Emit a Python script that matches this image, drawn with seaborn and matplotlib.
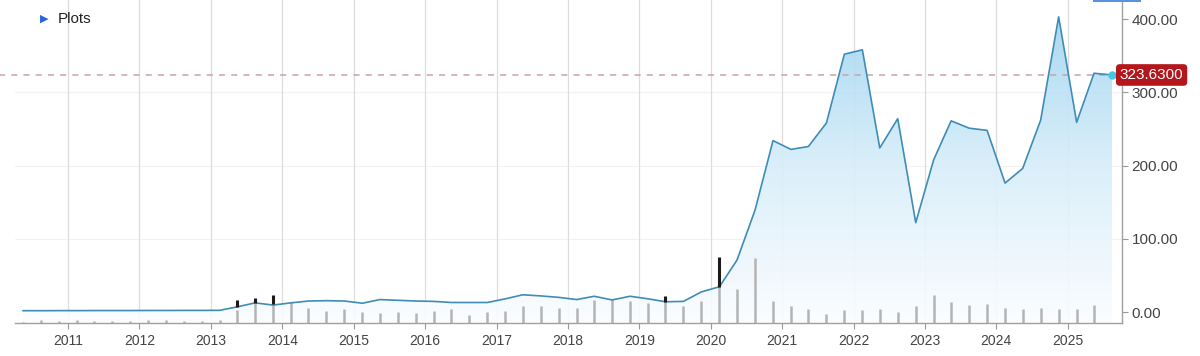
import numpy as np
import pandas as pd
import matplotlib
matplotlib.use("Agg")
import matplotlib.pyplot as plt
import matplotlib.dates as mdates
from matplotlib.colors import LinearSegmentedColormap
from matplotlib.patches import Polygon, Rectangle
import matplotlib.transforms as mtransforms
import seaborn as sns

# quarterly closes, May 2010 .. Aug 2025
price = [1.8, 1.8, 1.9, 1.9, 2.0, 2.0, 2.0, 2.1, 2.1, 2.2, 2.2,
         2.3, 7.0, 12.5, 9.5,
         12.5, 15.0, 15.5, 15.0,
         12.0, 17.0, 16.0, 15.0,
         14.5, 13.0, 13.0, 13.0,
         18.0, 23.5, 22.0, 20.0,
         17.0, 21.5, 16.5, 21.5,
         18.0, 14.0, 14.5, 27.5,
         34.5, 71.0, 139.0, 234.0,
         222.0, 226.0, 258.0, 352.0,
         358.0, 224.0, 264.0, 122.0,
         208.0, 261.0, 251.0, 248.0,
         176.0, 196.0, 262.0, 403.0,
         259.0, 326.0, 323.63]

# volume (millions), drawn from the bottom of the panel
volume = [1.0, 2.7, 1.7, 2.7, 2.3, 1.7, 1.7, 2.7, 2.7, 2.3, 1.7,
          3.3, 13.0, 20.0, 20.0,
          21.0, 15.0, 12.0, 14.0,
          11.0, 9.5, 11.0, 10.0,
          12.0, 13.5, 8.3, 11.0,
          12.0, 17.0, 17.0, 15.0,
          15.0, 22.5, 24.0, 21.5,
          20.0, 21.5, 17.3, 22.3,
          45.0, 34.0, 65.0, 21.7,
          16.7, 14.0, 9.3, 12.7,
          12.7, 14.0, 11.0, 16.7,
          27.7, 21.0, 17.7, 19.0,
          15.0, 14.0, 15.0, 14.0,
          14.0, 17.7, 0.0]

event_dates = ["2013-05-15", "2013-08-15", "2013-11-15", "2019-05-15", "2020-02-15"]
event_low = [7.0, 12.5, 11.0, 14.0, 34.5]
event_high = [17.0, 19.5, 23.5, 22.0, 75.5]

last_close = 323.63
year_ticks = list(range(2011, 2026))

dates = pd.date_range("2010-05-01", periods=len(price), freq="3MS") + pd.Timedelta(days=14)
df = pd.DataFrame({"date": dates, "price": price, "volume": volume})

sns.set_style("white")
plt.rcParams["font.family"] = ["Liberation Sans", "DejaVu Sans"]

fig = plt.figure(figsize=(12, 3.56), dpi=100)
ax = fig.add_axes([0.0125, 0.0927, 0.9225, 0.9073])

x0 = pd.Timestamp("2010-04-05")
x1 = pd.Timestamp("2025-10-05")
ymin, ymax = -15, 426
vol_scale = (ymax - ymin) / 323.0  # volume panel shares the price axis

ax.set_xlim(x0, x1)
ax.set_ylim(ymin, ymax)

# volume bars
ax.vlines(df["date"], ymin, ymin + df["volume"] * vol_scale, color="#b4b4b4", lw=1.8, zorder=2)

# gradient fill under the line
xn = mdates.date2num(df["date"])
verts = [(xn[0], ymin)] + list(zip(xn, df["price"])) + [(xn[-1], ymin)]
poly = Polygon(verts, closed=True, fc="none", ec="none")
ax.add_patch(poly)
cmap = LinearSegmentedColormap.from_list("grad", ["#fbfdff", "#d7eefa", "#9fd4f0"])
grad = np.linspace(0, 1, 256).reshape(-1, 1)
im = ax.imshow(grad, cmap=cmap, origin="lower", aspect="auto", alpha=0.9,
               extent=[xn[0], xn[-1], ymin, 410], zorder=1)
im.set_clip_path(poly)
ax.set_xlim(x0, x1)
ax.set_ylim(ymin, ymax)

sns.lineplot(data=df, x="date", y="price", ax=ax, color="#3f8cb6", lw=1.2, zorder=3)

ax.vlines(pd.to_datetime(event_dates), event_low, event_high, color="#1a1a1a", lw=2.2, zorder=4)

# last price marker, dashed level and label
ax.plot([df["date"].iloc[-1]], [last_close], marker="o", ms=5, color="#45c8e0", zorder=5)
trans = mtransforms.blended_transform_factory(ax.transAxes, ax.transData)
ax.plot([-0.015, 1.0], [last_close, last_close], transform=trans, ls=(0, (4, 4)),
        color="#c9a3a3", lw=1.1, clip_on=False, zorder=2)
ax.text(0.998, last_close, "323.6300", transform=trans, ha="left", va="center",
        color="white", fontsize=11, zorder=6,
        bbox=dict(boxstyle="round,pad=0.25", fc="#b3161b", ec="none"))

# grid and axes
ax.set_xticks([pd.Timestamp(f"{y}-01-01") for y in year_ticks])
ax.set_xticklabels([str(y) for y in year_ticks])
ax.grid(axis="x", color="#dcdcdc", lw=0.9)
ax.set_yticks([0, 100, 200, 300, 400])
ax.set_yticklabels([f"{v:.2f}" for v in [0, 100, 200, 300, 400]])
for v in [100, 200, 300]:
    ax.axhline(v, color="#f2f2f2", lw=0.8, zorder=0)
ax.yaxis.tick_right()
ax.tick_params(axis="y", right=True, length=4, color="#999999", labelsize=11, labelcolor="#444444", pad=3)
ax.tick_params(axis="x", bottom=True, length=4, color="#999999", labelsize=10, labelcolor="#444444", pad=4)
ax.set_xlabel("")
ax.set_ylabel("")
for side in ["top", "left"]:
    ax.spines[side].set_visible(False)
for side in ["right", "bottom"]:
    ax.spines[side].set_color("#a0a0a0")
    ax.spines[side].set_linewidth(1.0)

# "Plots" legend toggle
fig.text(0.0335, 0.947, "\u25B6", color="#2b63d9", fontsize=8, va="center", family="DejaVu Sans")
fig.text(0.048, 0.947, "Plots", color="#222222", fontsize=11, va="center")
fig.patches.append(Rectangle((0.911, 0.993), 0.04, 0.01, transform=fig.transFigure,
                             fc="#5b8fe0", ec="none"))

fig.savefig("out.png", dpi=100)
